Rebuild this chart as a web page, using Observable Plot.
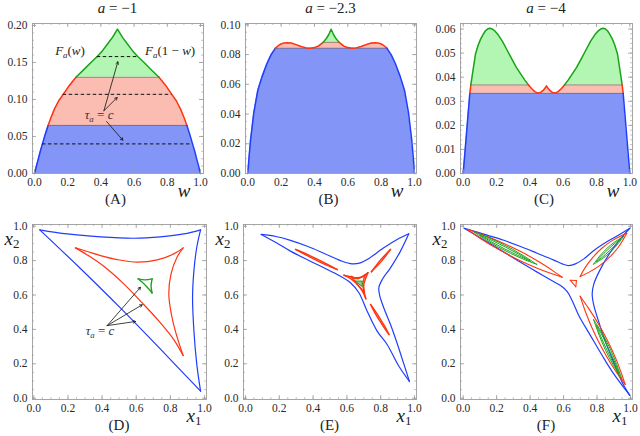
<!DOCTYPE html>
<html><head><meta charset="utf-8">
<script src="https://cdn.jsdelivr.net/npm/d3@7"></script>
<script src="https://cdn.jsdelivr.net/npm/@observablehq/plot@0.6"></script>
<style>
body{margin:0;background:#fff;}
#fig{position:relative;width:640px;height:436px;overflow:hidden;font-family:"Liberation Serif","DejaVu Serif",serif;color:#222;}
#fig svg{position:absolute;}
.lab{position:absolute;transform:translate(-50%,-50%);white-space:nowrap;line-height:1;}
.lab sub{font-size:0.68em;vertical-align:-0.25em;}
</style></head><body><div id="fig"></div>
<script>
const FONT = '"Liberation Serif","DejaVu Serif",serif';
const FRAME = "#9c9c9c", TXT = "#2a2a2a";
const BLUE = "#1f3dff", RED = "#ff3311", GREEN = "#1aa31a";
const BLUE_F = "#8396f8", RED_F = "#fbbdb2", GREEN_F = "#b3f6b3";

// ---------- top row: a = -1, -2.3, -4 ----------
const titles = ["−1", "−2.3", "−4"];
const wA = [0,0.01,0.02,0.035,0.048,0.065,0.082,0.10,0.12,0.145,0.173,0.21,0.25,0.30,0.34,0.378,0.41,0.44,0.47,0.5,0.53,0.56,0.59,0.622,0.66,0.70,0.75,0.79,0.827,0.855,0.88,0.90,0.918,0.935,0.952,0.965,0.98,0.99,1];
const fA = [0,0.0087,0.017,0.030,0.040,0.053,0.065,0.076,0.087,0.098,0.107,0.119,0.130,0.141,0.150,0.158,0.166,0.175,0.184,0.195,0.184,0.175,0.166,0.158,0.150,0.141,0.130,0.119,0.107,0.098,0.087,0.076,0.065,0.053,0.040,0.030,0.017,0.0087,0];
const levelsA = [0.065, 0.130];
const wB = [0,0.006,0.016,0.036,0.06,0.085,0.115,0.14,0.166,0.19,0.212,0.235,0.26,0.29,0.32,0.35,0.376,0.40,0.425,0.452,0.47,0.486,0.5,0.514,0.53,0.548,0.575,0.60,0.624,0.65,0.68,0.71,0.74,0.765,0.788,0.81,0.834,0.86,0.885,0.915,0.94,0.964,0.984,0.994,1];
const fB = [0,0.009,0.022,0.041,0.056,0.065,0.074,0.080,0.0843,0.0866,0.0877,0.0880,0.0878,0.0867,0.0854,0.0845,0.0843,0.0847,0.0858,0.0882,0.0906,0.0935,0.097,0.0935,0.0906,0.0882,0.0858,0.0847,0.0843,0.0845,0.0854,0.0867,0.0878,0.0880,0.0877,0.0866,0.0843,0.080,0.074,0.065,0.056,0.041,0.022,0.009,0];
const levelsB = [0.0843, 0.0882];
const wC = [0,0.01,0.02,0.03,0.04,0.046,0.055,0.065,0.074,0.09,0.104,0.12,0.134,0.148,0.16,0.175,0.19,0.21,0.235,0.264,0.29,0.32,0.344,0.37,0.392,0.41,0.43,0.448,0.465,0.48,0.492,0.5,0.508,0.52,0.535,0.552,0.57,0.59,0.608,0.63,0.656,0.68,0.71,0.736,0.765,0.79,0.81,0.825,0.84,0.852,0.866,0.88,0.896,0.91,0.926,0.935,0.945,0.954,0.96,0.97,0.98,0.99,1];
const fC = [0,0.0083,0.0167,0.025,0.0333,0.0368,0.041,0.0455,0.0496,0.0533,0.0557,0.0578,0.0593,0.0601,0.0603,0.0600,0.0592,0.0576,0.0550,0.0512,0.0478,0.0440,0.0415,0.0388,0.0368,0.0353,0.0340,0.0334,0.0337,0.0345,0.0355,0.0364,0.0355,0.0345,0.0337,0.0334,0.0340,0.0353,0.0368,0.0388,0.0415,0.0440,0.0478,0.0512,0.0550,0.0576,0.0592,0.0600,0.0603,0.0601,0.0593,0.0578,0.0557,0.0533,0.0496,0.0455,0.041,0.0368,0.0333,0.025,0.0167,0.0083,0];
const levelsC = [0.0333, 0.0368];

// dashed level lines and arrows of panel A
const dashY = [0.040, 0.107, 0.158];
const dashX1 = [0.048, 0.173, 0.378];
const dashX2 = [0.944, 0.827, 0.622];
const arrAx1 = [0.418, 0.418, 0.434], arrAy1 = [0.0847, 0.0847, 0.0703];
const arrAx2 = [0.502, 0.498, 0.532], arrAy2 = [0.151, 0.1027, 0.045];

// tick labels
const xTicks = [0, 0.2, 0.4, 0.6, 0.8, 1.0];
const yTicksA = [0, 0.05, 0.10, 0.15, 0.20];
const yTicksB = [0, 0.02, 0.04, 0.06, 0.08, 0.10];
const yTicksC = [0, 0.01, 0.02, 0.03, 0.04, 0.05, 0.06];
const yTicksBot = [0, 0.2, 0.4, 0.6, 0.8, 1.0];

// ---------- bottom row: level curves in (x1, x2) ----------
const dBlue = [
 [[0.035,0.979],[0.195,0.955],[0.391,0.938],[0.586,0.930],[0.742,0.938],[0.879,0.955],[0.977,0.979]],
 [[0.977,0.979],[0.955,0.879],[0.938,0.742],[0.930,0.586],[0.938,0.391],[0.955,0.195],[0.977,0.041]],
 [[0.977,0.041],[0.745,0.282],[0.51,0.522],[0.27,0.757],[0.035,0.979]]
];
const dRed = [
 [[0.244,0.874],[0.313,0.853],[0.391,0.829],[0.488,0.806],[0.605,0.791],[0.723,0.804],[0.820,0.839],[0.875,0.874]],
 [[0.875,0.874],[0.839,0.820],[0.804,0.723],[0.791,0.605],[0.806,0.488],[0.829,0.391],[0.853,0.313],[0.875,0.248]],
 [[0.875,0.248],[0.82,0.341],[0.742,0.438],[0.635,0.554],[0.527,0.665],[0.41,0.767],[0.313,0.833],[0.244,0.874]]
];
const dGreen = [
 [[0.611,0.694],[0.652,0.688],[0.693,0.694]],
 [[0.693,0.694],[0.687,0.653],[0.693,0.612]],
 [[0.693,0.612],[0.655,0.655],[0.611,0.694]]
];
const arrDx1 = [0.43,0.43,0.43], arrDy1 = [0.422,0.422,0.422];
const arrDx2 = [0.625,0.635,0.596], arrDy2 = [0.645,0.543,0.446];

const eBlue = [
 [[0.093,0.952],[0.18,0.94],[0.266,0.918],[0.37,0.882],[0.463,0.843],[0.562,0.800],[0.631,0.781],[0.68,0.787],[0.72,0.806],[0.818,0.874],[0.897,0.923],[0.966,0.956]],
 [[0.966,0.956],[0.917,0.855],[0.858,0.758],[0.809,0.690],[0.789,0.642],[0.795,0.593],[0.818,0.526],[0.858,0.428],[0.893,0.331],[0.93,0.22],[0.970,0.097]],
 [[0.970,0.097],[0.905,0.19],[0.838,0.312],[0.779,0.390],[0.720,0.506],[0.671,0.613],[0.621,0.671],[0.543,0.719],[0.424,0.777],[0.266,0.855],[0.18,0.905],[0.093,0.952]]
];
const eRed = [
 [[0.296,0.865],[0.359,0.839],[0.421,0.810],[0.482,0.780],[0.543,0.748]],
 [[0.543,0.748],[0.480,0.774],[0.418,0.803],[0.357,0.833],[0.296,0.865]],
 [[0.745,0.735],[0.771,0.769],[0.798,0.803],[0.828,0.834],[0.858,0.865]],
 [[0.858,0.865],[0.832,0.831],[0.805,0.797],[0.775,0.766],[0.745,0.735]],
 [[0.740,0.545],[0.770,0.503],[0.798,0.460],[0.825,0.416],[0.849,0.370]],
 [[0.849,0.370],[0.819,0.412],[0.791,0.455],[0.764,0.499],[0.740,0.545]],
 [[0.582,0.715],[0.625,0.705],[0.66,0.700],[0.695,0.710],[0.725,0.730]],
 [[0.725,0.730],[0.71,0.695],[0.70,0.66],[0.702,0.62],[0.712,0.578]],
 [[0.712,0.578],[0.69,0.625],[0.655,0.668],[0.62,0.697],[0.582,0.715]],
 [[0.625,0.708],[0.665,0.694],[0.708,0.716]],
 [[0.708,0.716],[0.694,0.664],[0.704,0.615]],
 [[0.704,0.615],[0.662,0.662],[0.625,0.708]]
];
const eGreen = [[0.651,0.681],[0.690,0.681],[0.690,0.649],[0.651,0.681]];

const fBlue = [
 [[0.006,0.988],[0.143,0.948],[0.243,0.918],[0.343,0.882],[0.442,0.843],[0.542,0.803],[0.592,0.781],[0.631,0.771],[0.671,0.781],[0.721,0.810],[0.781,0.859],[0.861,0.911],[0.940,0.955],[0.996,0.988]],
 [[0.996,0.988],[0.940,0.926],[0.880,0.849],[0.821,0.752],[0.781,0.665],[0.771,0.607],[0.781,0.539],[0.811,0.442],[0.851,0.326],[0.900,0.209],[0.950,0.093],[0.996,0.016]],
 [[0.996,0.016],[0.900,0.141],[0.831,0.248],[0.761,0.364],[0.691,0.481],[0.651,0.568],[0.622,0.620],[0.582,0.655],[0.542,0.677],[0.442,0.733],[0.343,0.790],[0.243,0.850],[0.124,0.920],[0.006,0.988]]
];
const fRed = [
 [[0.024,0.982],[0.115,0.951],[0.233,0.904],[0.347,0.851],[0.458,0.790],[0.539,0.739],[0.592,0.703]],
 [[0.592,0.703],[0.531,0.723],[0.442,0.756],[0.325,0.807],[0.213,0.864],[0.103,0.929],[0.024,0.982]],
 [[0.699,0.708],[0.729,0.759],[0.776,0.820],[0.829,0.872],[0.890,0.916],[0.942,0.943],[0.978,0.959]],
 [[0.978,0.959],[0.958,0.925],[0.926,0.876],[0.875,0.820],[0.818,0.772],[0.753,0.733],[0.699,0.708]],
 [[0.699,0.593],[0.750,0.522],[0.813,0.424],[0.869,0.323],[0.918,0.217],[0.949,0.135],[0.968,0.080]],
 [[0.968,0.080],[0.933,0.127],[0.884,0.199],[0.825,0.299],[0.773,0.402],[0.728,0.510],[0.699,0.593]],
 [[0.640,0.686],[0.677,0.684]],[[0.677,0.684],[0.673,0.648]],[[0.673,0.648],[0.640,0.686]]
];
const fGreen = [
 [[0.062,0.968],[0.142,0.938],[0.219,0.904],[0.295,0.866],[0.368,0.824],[0.44,0.778]],
 [[0.44,0.778],[0.360,0.808],[0.283,0.842],[0.207,0.880],[0.134,0.922],[0.062,0.968]],
 [[0.100,0.949],[0.177,0.915],[0.254,0.878],[0.329,0.839],[0.402,0.797]],
 [[0.402,0.797],[0.325,0.831],[0.248,0.868],[0.173,0.907],[0.100,0.949]],
 [[0.779,0.779],[0.816,0.827],[0.859,0.871],[0.905,0.908],[0.958,0.940]],
 [[0.958,0.940],[0.921,0.892],[0.879,0.849],[0.832,0.811],[0.779,0.779]],
 [[0.797,0.795],[0.821,0.822],[0.865,0.864],[0.910,0.903],[0.940,0.924]],
 [[0.940,0.924],[0.916,0.897],[0.873,0.856],[0.827,0.816],[0.797,0.795]],
 [[0.779,0.458],[0.831,0.376],[0.877,0.290],[0.916,0.201],[0.949,0.109]],
 [[0.949,0.109],[0.898,0.191],[0.851,0.278],[0.813,0.366],[0.779,0.458]],
 [[0.796,0.423],[0.826,0.373],[0.869,0.287],[0.911,0.198],[0.932,0.144]],
 [[0.932,0.144],[0.903,0.194],[0.859,0.281],[0.818,0.369],[0.796,0.423]]
];

// ---------- helpers ----------
const fig = document.getElementById("fig");
function label(html, x, y, size, extra) {
  const d = document.createElement("div");
  d.className = "lab";
  d.style.left = x + "px"; d.style.top = y + "px"; d.style.fontSize = size + "px";
  if (extra) Object.assign(d.style, extra);
  d.innerHTML = html;
  fig.appendChild(d);
}
function panel(cfg) {
  const {fx0, fx1, fy0, fy1, xdom, ydom, xt, yt, xminor, yminor, xfmt, yfmt, marks} = cfg;
  const L = fx0 - 36, T = fy0 - 8, W = fx1 + 8 - L, H = fy1 + 22 - T;
  const pw = fx1 - fx0, ph = fy1 - fy0;
  const chart = Plot.plot({
    width: W, height: H,
    marginLeft: fx0 - L, marginRight: L + W - fx1, marginTop: fy0 - T, marginBottom: T + H - fy1,
    x: {domain: xdom, axis: null}, y: {domain: ydom, axis: null},
    style: {fontFamily: FONT, fontSize: "11.5px", background: "transparent", overflow: "visible"},
    marks: [
      ...marks,
      Plot.frame({stroke: FRAME, strokeWidth: 0.9}),
      Plot.tickX(xminor, {x: d => d, stroke: FRAME, strokeWidth: 0.6, insetTop: ph - 2}),
      Plot.tickX(xminor, {x: d => d, stroke: FRAME, strokeWidth: 0.6, insetBottom: ph - 2}),
      Plot.tickX(xt, {x: d => d, stroke: FRAME, strokeWidth: 0.8, insetTop: ph - 4}),
      Plot.tickX(xt, {x: d => d, stroke: FRAME, strokeWidth: 0.8, insetBottom: ph - 4}),
      Plot.tickY(yminor, {y: d => d, stroke: FRAME, strokeWidth: 0.6, insetRight: pw - 2}),
      Plot.tickY(yminor, {y: d => d, stroke: FRAME, strokeWidth: 0.6, insetLeft: pw - 2}),
      Plot.tickY(yt, {y: d => d, stroke: FRAME, strokeWidth: 0.8, insetRight: pw - 4}),
      Plot.tickY(yt, {y: d => d, stroke: FRAME, strokeWidth: 0.8, insetLeft: pw - 4}),
      Plot.text(xt, {x: d => d, frameAnchor: "bottom", dy: 9, text: xfmt, fill: TXT, lineAnchor: "middle"}),
      Plot.text(yt, {y: d => d, frameAnchor: "left", dx: -5, text: yfmt, textAnchor: "end", fill: TXT})
    ]
  });
  chart.style.left = L + "px"; chart.style.top = T + "px";
  fig.appendChild(chart);
  const sx = chart.scale("x"), sy = chart.scale("y");
  return {chart, px: v => L + sx.apply(v), py: v => T + sy.apply(v)};
}
function topMarks(w, f, [l1, l2]) {
  const rows = w.map((x, i) => ({x, y: f[i], b: Math.min(f[i], l1), r: Math.max(l1, Math.min(f[i], l2)), g: Math.max(l2, f[i])}));
  const runs = []; let run = -1, prev = null;
  for (let i = 0; i < w.length - 1; i++) {
    const m = (f[i] + f[i + 1]) / 2;
    const col = m <= l1 ? BLUE : m <= l2 ? RED : GREEN;
    if (col !== prev) { run++; runs.push({x: w[i], y: f[i], run, col}); prev = col; }
    runs.push({x: w[i + 1], y: f[i + 1], run, col});
  }
  return [
    Plot.areaY(rows, {x: "x", y1: 0, y2: "b", fill: BLUE_F}),
    Plot.areaY(rows, {x: "x", y1: l1, y2: "r", fill: RED_F}),
    Plot.areaY(rows, {x: "x", y1: l2, y2: "g", fill: GREEN_F}),
    Plot.line(rows, {x: "x", y: d => d.y >= l1 - 1e-9 ? l1 : NaN, stroke: "#6e5c5c", strokeWidth: 0.7}),
    Plot.line(rows, {x: "x", y: d => d.y >= l2 - 1e-9 ? l2 : NaN, stroke: "#6e6e5c", strokeWidth: 0.7}),
    Plot.line(runs, {x: "x", y: "y", z: "run", stroke: "col", strokeWidth: 1.5})
  ];
}
function curveMarks(groups) {
  const rows = [];
  groups.forEach(([edges, col, sw], gi) => edges.forEach((e, ei) => e.forEach(([x, y]) => rows.push({x, y, id: gi + "-" + ei, col, sw}))));
  return Plot.line(rows, {x: "x", y: "y", z: "id", stroke: "col", strokeWidth: "sw", curve: "catmull-rom"});
}
const f2 = d => d.toFixed(2), f1 = d => d.toFixed(1);
const xMinor = d3.range(0, 1.0001, 0.05);

// ---------- draw top row ----------
const topCfg = [
  {fx0: 32, fx1: 203, xdom: [-0.012, 1.018], ydom: [0, 0.2027], yt: yTicksA, yminor: d3.range(0, 0.2001, 0.01), w: wA, f: fA, lv: levelsA},
  {fx0: 245, fx1: 416, xdom: [-0.0138, 1.012], ydom: [0, 0.1009], yt: yTicksB, yminor: d3.range(0, 0.1001, 0.005), w: wB, f: fB, lv: levelsB},
  {fx0: 460, fx1: 632, xdom: [-0.016, 1.016], ydom: [0, 0.0623], yt: yTicksC, yminor: d3.range(0, 0.0601, 0.002), w: wC, f: fC, lv: levelsC}
];
const tops = topCfg.map((c, i) => {
  const extra = i === 0 ? [
    Plot.ruleY(dashY, {y: d => d, x1: (d, j) => dashX1[j], x2: (d, j) => dashX2[j], stroke: "#111", strokeWidth: 1, strokeDasharray: "3.5,2.5"}),
    Plot.arrow(arrAx1, {x1: d => d, y1: (d, j) => arrAy1[j], x2: (d, j) => arrAx2[j], y2: (d, j) => arrAy2[j], stroke: "#111", strokeWidth: 0.8, headLength: 5})
  ] : [];
  const p = panel({fx0: c.fx0, fx1: c.fx1, fy0: 23, fy1: 173, xdom: c.xdom, ydom: c.ydom, xt: xTicks, yt: c.yt,
    xminor: xMinor, yminor: c.yminor, xfmt: f1, yfmt: f2, marks: [...topMarks(c.w, c.f, c.lv), ...extra]});
  const cx = (c.fx0 + c.fx1) / 2;
  label(`<i>a</i> = ${titles[i]}`, cx, 8, 15);
  label(`(${"ABC"[i]})`, cx - 2, 199, 15);
  label(`<i>w</i>`, c.fx1 - 19, 190, 19);
  return p;
});
// annotations panel A
{
  const p = tops[0];
  label(`<i>F<sub>a</sub></i>(<i>w</i>)`, p.px(0.217), p.py(0.163), 13);
  label(`<i>F<sub>a</sub></i>(1 − <i>w</i>)`, p.px(0.82), p.py(0.163), 13);
  label(`<i>τ<sub>a</sub></i> = <i>c</i>`, p.px(0.392), p.py(0.0766), 13, {color: "#333"});
}

// ---------- draw bottom row ----------
const botCfg = [
  {fx0: 32, fx1: 206, xdom: [-0.0076, 1.0117], groups: [[dBlue, BLUE, 1.2], [dRed, RED, 1.2], [dGreen, GREEN, 1.4]]},
  {fx0: 243, fx1: 416, xdom: [-0.0118, 1.0118], groups: [[eBlue, BLUE, 1.2], [eRed, RED, 1.4]]},
  {fx0: 460, fx1: 632, xdom: [-0.016, 1.012], groups: [[fBlue, BLUE, 1.2], [fRed, RED, 1.1], [fGreen, GREEN, 1.0]]}
];
botCfg.forEach((c, i) => {
  const extra = [];
  if (i === 0) extra.push(Plot.arrow(arrDx1, {x1: d => d, y1: (d, j) => arrDy1[j], x2: (d, j) => arrDx2[j], y2: (d, j) => arrDy2[j], stroke: "#111", strokeWidth: 0.8, headLength: 5}));
  if (i === 1) extra.push(Plot.line(eGreen, {x: d => d[0], y: d => d[1], fill: "#7be07b", stroke: GREEN, strokeWidth: 1}));
  const p = panel({fx0: c.fx0, fx1: c.fx1, fy0: 224, fy1: 399, xdom: c.xdom, ydom: [-0.0076, 1.0099], xt: xTicks, yt: yTicksBot,
    xminor: xMinor, yminor: xMinor, xfmt: f1, yfmt: f1, marks: [curveMarks(c.groups), ...extra]});
  const cx = (c.fx0 + c.fx1) / 2;
  label(`(${"DEF"[i]})`, cx, 425, 15);
  label(`<i>x</i><sub>1</sub>`, c.fx1 - 12, 417, 19);
  label(`<i>x</i><sub>2</sub>`, c.fx0 - 20, 240, 19);
  if (i === 0) label(`<i>τ<sub>a</sub></i> = <i>c</i>`, p.px(0.391), p.py(0.384), 13, {color: "#333"});
});
</script></body></html>
